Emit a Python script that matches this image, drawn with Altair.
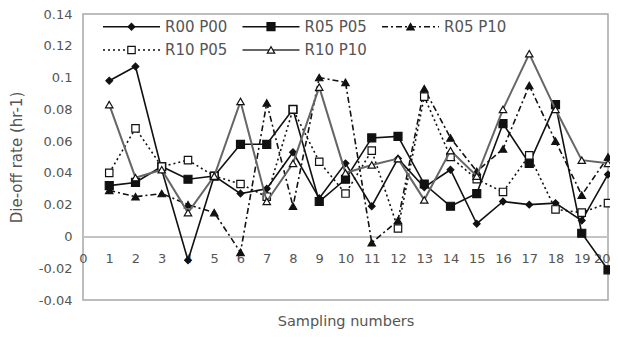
import altair as alt
import pandas as pd

samples = list(range(1, 21))
series_names = ["R00 P00", "R05 P05", "R05 P10", "R10 P05", "R10 P10"]
r00_p00 = [0.098, 0.107, 0.042, -0.015, 0.038, 0.027, 0.030, 0.053, 0.024, 0.046,
           0.019, 0.049, 0.031, 0.042, 0.008, 0.022, 0.020, 0.021, 0.010, 0.039]
r05_p05 = [0.032, 0.034, 0.044, 0.036, 0.038, 0.058, 0.058, 0.080, 0.022, 0.036,
           0.062, 0.063, 0.033, 0.019, 0.027, 0.071, 0.046, 0.083, 0.002, -0.021]
r05_p10 = [0.029, 0.025, 0.027, 0.020, 0.015, -0.010, 0.084, 0.019, 0.100, 0.097,
           -0.004, 0.010, 0.093, 0.062, 0.041, 0.055, 0.095, 0.060, 0.026, 0.050]
r10_p05 = [0.040, 0.068, 0.044, 0.048, 0.038, 0.033, 0.025, 0.080, 0.047, 0.027,
           0.054, 0.005, 0.088, 0.050, 0.036, 0.028, 0.051, 0.017, 0.015, 0.021]
r10_p10 = [0.083, 0.037, 0.042, 0.015, 0.038, 0.085, 0.022, 0.046, 0.094, 0.040,
           0.045, 0.049, 0.023, 0.054, 0.038, 0.080, 0.115, 0.080, 0.048, 0.046]
series_values = [r00_p00, r05_p05, r05_p10, r10_p05, r10_p10]

x_ticks = list(range(0, 21))
y_ticks = [-0.04, -0.02, 0.0, 0.02, 0.04, 0.06, 0.08, 0.10, 0.12, 0.14]
x_title = "Sampling numbers"
y_title = "Die-off rate (hr-1)"

styles = {
    "R00 P00": dict(color="#111", width=1.6, dash=None, shape="diamond", size=45, fill="#111"),
    "R05 P05": dict(color="#111", width=1.6, dash=None, shape="square", size=64, fill="#111"),
    "R05 P10": dict(color="#111", width=1.6, dash=[6, 3, 2, 3], shape="triangle-up", size=55, fill="#111"),
    "R10 P05": dict(color="#111", width=1.6, dash=[2, 3], shape="square", size=55, fill="white"),
    "R10 P10": dict(color="#666", width=2.0, dash=None, shape="triangle-up", size=55, fill="white"),
}

W, H = 525, 286
ymin, ymax = -0.04, 0.14
zero_offset = -H * (0 - ymin) / (ymax - ymin)
FONT = "DejaVu Sans"
TXT = "#555"

xs = alt.Scale(domain=[0, 20], nice=False, zero=False)
ys = alt.Scale(domain=[ymin, ymax], nice=False, zero=False)

x_axis = alt.Axis(values=x_ticks, format="d", offset=zero_offset, domainColor="#c4c4c4",
                  domainWidth=2, ticks=False, labelPadding=16, labelColor=TXT,
                  labelFontSize=13, labelFont=FONT, labelFlush=False, grid=False,
                  labelAlign={"condition": {"test": "datum.value == 20", "value": "right"},
                              "value": "center"},
                  labelOffset={"condition": {"test": "datum.value == 20", "value": 2},
                               "value": 0},
                  title=x_title, titleY=85, titleBaseline="middle", titleFont=FONT,
                  titleFontSize=14.5, titleFontWeight="normal", titleColor=TXT)
y_axis = alt.Axis(values=y_ticks, labelExpr="toString(round(datum.value*100)/100)",
                  domain=False, ticks=False, labelPadding=11, labelColor=TXT,
                  labelFontSize=13, labelFont=FONT, grid=False,
                  title=y_title, titleX=-59, titleBaseline="bottom", titleFont=FONT,
                  titleFontSize=15, titleFontWeight="normal", titleColor=TXT)

layers = []
for name, vals in zip(series_names, series_values):
    st = styles[name]
    df = pd.DataFrame({"x": samples, "y": vals, "series": name})
    base = alt.Chart(df).encode(
        x=alt.X("x:Q", scale=xs, axis=x_axis),
        y=alt.Y("y:Q", scale=ys, axis=y_axis),
    )
    line_kw = dict(color=st["color"], strokeWidth=st["width"])
    if st["dash"]:
        line_kw["strokeDash"] = st["dash"]
    layers.append(base.mark_line(**line_kw))
    layers.append(base.mark_point(shape=st["shape"], size=st["size"], filled=True,
                                  fill=st["fill"], stroke="#111", strokeWidth=1.2, opacity=1))

# legend (inside the plot, top-left)
leg_cols = [0, 1, 2, 0, 1]
leg_rows = [0, 0, 0, 1, 1]
for name, c, r in zip(series_names, leg_cols, leg_rows):
    st = styles[name]
    x0 = 20 + 139.5 * c
    yy = 12.7 + 23.3 * r
    ldf = pd.DataFrame({"series": [name]})
    rule_kw = dict(color=st["color"], strokeWidth=st["width"])
    if st["dash"]:
        rule_kw["strokeDash"] = st["dash"]
    layers.append(alt.Chart(ldf).mark_rule(**rule_kw).encode(
        x=alt.value(x0), x2=alt.value(x0 + 57), y=alt.value(yy)))
    layers.append(alt.Chart(ldf).mark_point(shape=st["shape"], size=st["size"], filled=True,
                                            fill=st["fill"], stroke="#111", strokeWidth=1.2,
                                            opacity=1).encode(
        x=alt.value(x0 + 28.5), y=alt.value(yy)))
    layers.append(alt.Chart(ldf).mark_text(align="left", baseline="middle", font=FONT,
                                           fontSize=15, color=TXT).encode(
        x=alt.value(x0 + 62), y=alt.value(yy), text="series:N"))

chart = alt.layer(*layers).properties(
    width=W, height=H,
    autosize=alt.AutoSizeParams(type="none"),
    padding={"left": 75, "top": 6, "right": 2, "bottom": 30},
    background="white",
).configure_view(stroke="#a8a8a8", strokeWidth=1.5)

chart.save("out.html", embed_options={"renderer": "svg", "actions": False})
